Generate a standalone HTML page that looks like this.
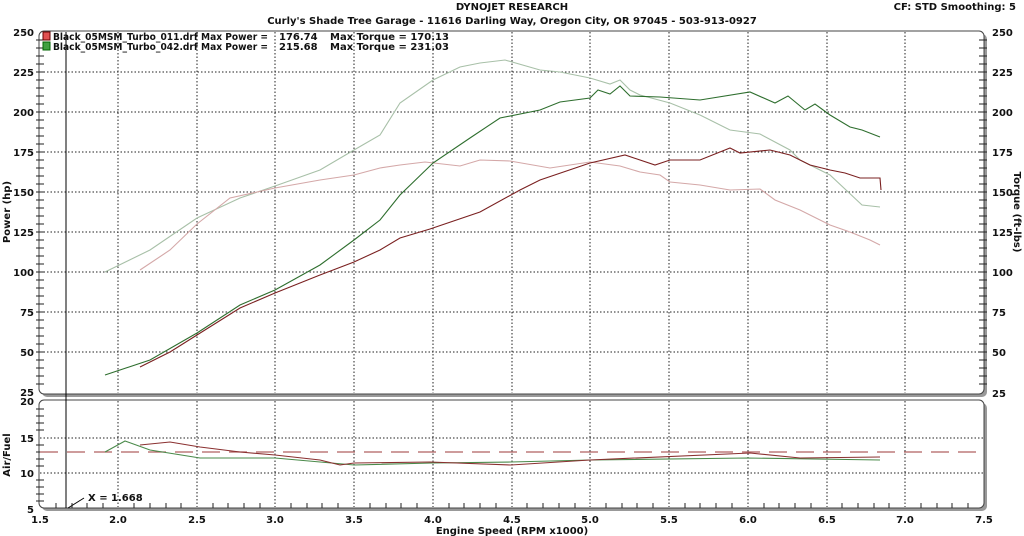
<!DOCTYPE html><html><head><style>body{margin:0;background:#fff}svg{display:block}text{font-family:"DejaVu Sans","Liberation Sans",sans-serif;font-weight:bold;font-size:10px;fill:#111}</style></head><body>
<svg width="1024" height="536" viewBox="0 0 1024 536">
<text x="512" y="10" text-anchor="middle">DYNOJET RESEARCH</text>
<text x="512" y="24" text-anchor="middle">Curly's Shade Tree Garage - 11616 Darling Way, Oregon City, OR 97045 - 503-913-0927</text>
<text x="1016" y="10" text-anchor="end">CF: STD  Smoothing: 5</text>
<rect x="42" y="34" width="945" height="363" rx="5" fill="#999"/>
<rect x="39" y="31" width="945" height="363" rx="5" fill="#fff" stroke="#444"/>
<rect x="42" y="403" width="945" height="108" rx="5" fill="#999"/>
<rect x="39" y="400" width="945" height="108" rx="5" fill="#fff" stroke="#444"/>
<g stroke="#222" stroke-dasharray="1.5,2" stroke-width="1">
<path d="M40 72H984M40 112H984M40 152H984M40 192H984M40 232H984M40 272H984M40 312H984M40 352H984M40 438H984M40 473H984"/>
<path d="M118 32V393M197 32V393M275 32V393M354 32V393M433 32V393M512 32V393M590 32V393M669 32V393M748 32V393M827 32V393M905 32V393"/>
<path d="M118 401V507M197 401V507M275 401V507M354 401V507M433 401V507M512 401V507M590 401V507M669 401V507M748 401V507M827 401V507M905 401V507"/>
</g>
<g stroke="#222">
<path d="M36 40H44M36 48H44M36 56H44M36 64H44M36 72H44M36 80H44M36 88H44M36 96H44M36 104H44M36 112H44M36 120H44M36 128H44M36 136H44M36 144H44M36 152H44M36 160H44M36 168H44M36 176H44M36 184H44M36 192H44M36 200H44M36 208H44M36 216H44M36 224H44M36 232H44M36 240H44M36 248H44M36 256H44M36 264H44M36 272H44M36 280H44M36 288H44M36 296H44M36 304H44M36 312H44M36 320H44M36 328H44M36 336H44M36 344H44M36 352H44M36 360H44M36 368H44M36 376H44M36 384H44"/>
<path d="M979 40H987M979 48H987M979 56H987M979 64H987M979 72H987M979 80H987M979 88H987M979 96H987M979 104H987M979 112H987M979 120H987M979 128H987M979 136H987M979 144H987M979 152H987M979 160H987M979 168H987M979 176H987M979 184H987M979 192H987M979 200H987M979 208H987M979 216H987M979 224H987M979 232H987M979 240H987M979 248H987M979 256H987M979 264H987M979 272H987M979 280H987M979 288H987M979 296H987M979 304H987M979 312H987M979 320H987M979 328H987M979 336H987M979 344H987M979 352H987M979 360H987M979 368H987M979 376H987M979 384H987"/>
<path d="M36 409H44M36 416H44M36 423H44M36 430H44M36 445H44M36 452H44M36 459H44M36 466H44M36 480H44M36 487H44M36 494H44M36 501H44"/>
<path d="M56 503V508M72 503V508M87 503V508M103 503V508M134 503V508M150 503V508M166 503V508M181 503V508M213 503V508M228 503V508M244 503V508M260 503V508M291 503V508M307 503V508M322 503V508M338 503V508M370 503V508M386 503V508M401 503V508M417 503V508M449 503V508M464 503V508M480 503V508M496 503V508M527 503V508M543 503V508M559 503V508M575 503V508M606 503V508M622 503V508M637 503V508M653 503V508M685 503V508M700 503V508M716 503V508M732 503V508M764 503V508M779 503V508M795 503V508M811 503V508M842 503V508M858 503V508M874 503V508M889 503V508M921 503V508M937 503V508M952 503V508M968 503V508"/>
</g>
<path d="M66 32V508" stroke="#000"/>
<path d="M40 452H984" stroke="#b06060" stroke-width="1.2" stroke-dasharray="18,9"/>
<g text-anchor="end">
<text x="34" y="36">250</text><text x="34" y="76">225</text><text x="34" y="116">200</text><text x="34" y="156">175</text><text x="34" y="196">150</text><text x="34" y="236">125</text><text x="34" y="276">100</text><text x="34" y="316">75</text><text x="34" y="356">50</text><text x="34" y="396">25</text>
<text x="34" y="405">20</text><text x="34" y="442">15</text><text x="34" y="477">10</text><text x="34" y="513">5</text>
</g>
<g>
<text x="992" y="36">250</text><text x="992" y="76">225</text><text x="992" y="116">200</text><text x="992" y="156">175</text><text x="992" y="196">150</text><text x="992" y="236">125</text><text x="992" y="276">100</text><text x="992" y="316">75</text><text x="992" y="356">50</text><text x="992" y="397">25</text>
</g>
<g text-anchor="middle">
<text x="40" y="523">1.5</text><text x="118" y="523">2.0</text><text x="197" y="523">2.5</text><text x="275" y="523">3.0</text><text x="354" y="523">3.5</text><text x="433" y="523">4.0</text><text x="512" y="523">4.5</text><text x="590" y="523">5.0</text><text x="669" y="523">5.5</text><text x="748" y="523">6.0</text><text x="827" y="523">6.5</text><text x="905" y="523">7.0</text><text x="984" y="523">7.5</text>
<text x="512" y="534">Engine Speed (RPM x1000)</text>
</g>
<text transform="translate(10,212) rotate(-90)" text-anchor="middle">Power (hp)</text>
<text transform="translate(10,455) rotate(-90)" text-anchor="middle">Air/Fuel</text>
<text transform="translate(1014,212) rotate(90)" text-anchor="middle">Torque (ft-lbs)</text>
<rect x="43" y="32" width="7" height="8" fill="#e05050" stroke="#600"/>
<rect x="43" y="42" width="7" height="8" fill="#40a040" stroke="#060"/>
<text x="53" y="40" textLength="215" lengthAdjust="spacingAndGlyphs">Black_05MSM_Turbo_011.drf Max Power =</text>
<text x="53" y="50" textLength="215" lengthAdjust="spacingAndGlyphs">Black_05MSM_Turbo_042.drf Max Power =</text>
<text x="279" y="40">176.74</text><text x="279" y="50">215.68</text>
<text x="330" y="40">Max Torque = 170.13</text><text x="330" y="50">Max Torque = 231.03</text>
<text x="88" y="501">X = 1.668</text>
<path d="M68 508L84 498" stroke="#000"/>
<g fill="none" stroke-width="1.1">
<path stroke="#a8c0a8" d="M105 272L150 250L197 218L240 198L275 186L320 170L354 150L380 135L400 103L433 80L460 67L480 63L505 60L540 70L560 72L590 78L610 84L620 80L630 90L640 95L670 103L700 115L730 130L760 134L790 150L800 160L830 175L862 205L880 207"/>
<path stroke="#d4a8a8" d="M140 270L170 250L197 224L230 198L275 188L320 180L354 175L380 168L400 165L425 162L460 166L480 160L510 161L550 168L590 162L620 166L640 172L660 175L670 182L700 185L730 190L760 189L775 200L800 210L830 225L850 232L870 240L880 245"/>
<path stroke="#2e6e2e" d="M105 375L150 360L197 333L240 305L275 290L320 265L354 240L380 220L400 195L433 163L470 138L500 118L540 110L560 102L590 98L598 90L610 94L620 86L630 96L660 97L700 100L750 92L775 103L788 96L805 110L815 104L830 115L850 127L862 130L880 137"/>
<path stroke="#7a2020" d="M140 367L170 352L197 335L240 308L275 293L320 275L354 262L380 250L400 238L430 229L480 212L520 190L540 180L590 163L625 155L655 165L670 160L700 160L730 148L740 153L770 150L790 155L810 165L830 170L845 173L860 178L880 178L881 190"/>
<path stroke="#4a8a4a" d="M105 452L125 441L150 450L200 458L275 458L354 465L433 463L511 462L590 460L747 458L880 460"/>
<path stroke="#8a3030" d="M140 445L170 442L200 447L240 452L275 455L320 460L340 465L354 463L430 462L511 465L590 460L750 453L800 458L880 457"/>
</g>
</svg></body></html>
